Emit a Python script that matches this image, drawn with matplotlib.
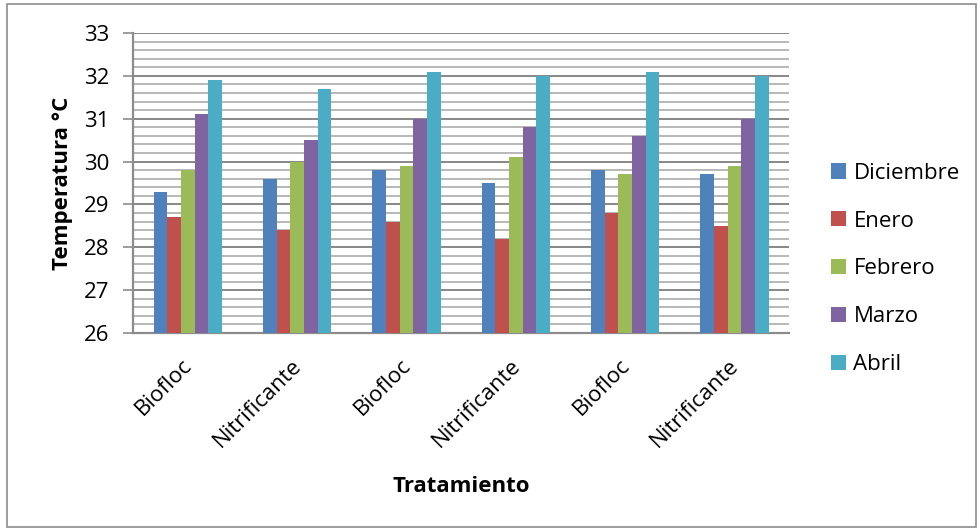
import matplotlib
matplotlib.use("Agg")
import matplotlib.pyplot as plt
import matplotlib.transforms as mtransforms
import numpy as np
from matplotlib.patches import Rectangle
from matplotlib.ticker import MultipleLocator

# Treatments (x categories) and monthly mean temperatures (°C)
tratamientos = ["Biofloc", "Nitrificante", "Biofloc", "Nitrificante", "Biofloc", "Nitrificante"]
meses = ["Diciembre", "Enero", "Febrero", "Marzo", "Abril"]
diciembre = [29.3, 29.6, 29.8, 29.5, 29.8, 29.7]
enero = [28.7, 28.4, 28.6, 28.2, 28.8, 28.5]
febrero = [29.8, 30.0, 29.9, 30.1, 29.7, 29.9]
marzo = [31.1, 30.5, 31.0, 30.8, 30.6, 31.0]
abril = [31.9, 31.7, 32.1, 32.0, 32.1, 32.0]
series = [diciembre, enero, febrero, marzo, abril]
colores = ["#4F81BD", "#C0504D", "#9BBB59", "#8064A2", "#4BACC6"]

plt.rcParams["font.family"] = ["Open Sans", "DejaVu Sans"]
FS = 16

fig = plt.figure(figsize=(9.8, 5.31), dpi=100)
ax = fig.add_axes([133 / 980, 1 - 333 / 531, (789 - 133) / 980, (333 - 33) / 531])

x = np.arange(len(tratamientos))
ancho = 0.125
for i, (vals, col, nombre) in enumerate(zip(series, colores, meses)):
    offs = (i - 2) * ancho
    ax.bar(x + offs, np.array(vals) - 26, width=ancho, bottom=26, color=col,
           label=nombre, zorder=3, linewidth=0)

ax.set_ylim(26, 33)
ax.set_xlim(-0.5, len(tratamientos) - 0.5)
ax.yaxis.set_major_locator(MultipleLocator(1))
ax.yaxis.set_minor_locator(MultipleLocator(0.2))
ax.grid(which="major", axis="y", color="#878787", linewidth=1.4, zorder=1)
ax.grid(which="minor", axis="y", color="#b8b8b8", linewidth=1.4, zorder=1)
ax.tick_params(axis="y", which="minor", length=0)
ax.tick_params(axis="y", which="major", length=7, width=1.2, color="#8c8c8c",
               labelsize=FS, pad=10)
ax.tick_params(axis="x", length=0, labelsize=FS, pad=16)

ax.set_xticks(x)
ax.set_xticklabels(tratamientos, rotation=45, ha="right", va="top",
                   rotation_mode="anchor")
shift = mtransforms.ScaledTranslation(-6 / 100, 0, fig.dpi_scale_trans)
for lbl in ax.get_xticklabels():
    lbl.set_transform(lbl.get_transform() + shift)

for s in ["top", "right"]:
    ax.spines[s].set_visible(False)
for s in ["left", "bottom"]:
    ax.spines[s].set_color("#8c8c8c")
    ax.spines[s].set_linewidth(1.6)

ax.set_ylabel("Temperatura °C", fontsize=FS, fontweight="bold", labelpad=8)
ax.set_xlabel("Tratamiento", fontsize=FS, fontweight="bold")
ax.xaxis.set_label_coords((461 - 133) / (789 - 133), -(476 - 333) / 300)

leg = ax.legend(loc="center left", bbox_to_anchor=(831 / 980, 1 - 269 / 531),
                bbox_transform=fig.transFigure, frameon=False, fontsize=FS,
                handlelength=0.68, handleheight=0.68, handletextpad=0.33,
                labelspacing=1.21, borderpad=0, borderaxespad=0)

# Outer chart border
fig.patches.append(Rectangle((7 / 980, 4 / 531), (976 - 7) / 980, (527 - 4) / 531,
                             transform=fig.transFigure, fill=False,
                             edgecolor="#8c8c8c", linewidth=1.2))

fig.savefig("out.png", dpi=100)
